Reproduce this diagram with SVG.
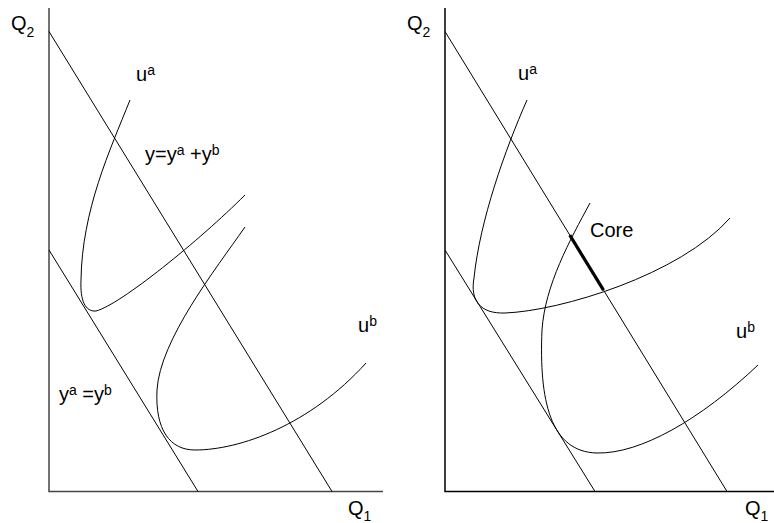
<svg xmlns="http://www.w3.org/2000/svg" width="774" height="523" viewBox="0 0 774 523">
<style>
  .ln { fill: none; stroke: #000; stroke-width: 1; }
  .ax { fill: none; stroke: #444; stroke-width: 1.5; }
  .axr { fill: none; stroke: #000; stroke-width: 1.5; }
  .core { fill: none; stroke: #000; stroke-width: 3.2; }
  text { font-family: "Liberation Sans", Arial, sans-serif; font-size: 20px; fill: #000; }
  .sm { font-size: 14px; }
</style>
<rect width="774" height="523" fill="#fff"/>
<g id="left-panel">
  <g id="left-axes">
    <path class="ax" d="M49,8 V491.5 H383"/>
  </g>
  <g id="left-connectors">
    <path id="left-budget-outer" class="ln" d="M49,31.5 L332,491.5"/>
    <path id="left-budget-inner" class="ln" d="M49,250 L198,491.5"/>
    <path id="left-ua" class="ln" d="M130,100 C110,150 82,210 81,280 C80,300 85,312 96,311 C120,305 200,240 245,195"/>
    <path id="left-ub" class="ln" d="M245,227 C215,270 160,340 157,390 C155,430 170,450 195,450 C240,450 310,425 366,363"/>
  </g>
  <g id="left-labels">
    <text x="11" y="30">Q<tspan class="sm" dy="7">2</tspan></text>
    <text x="136" y="81">u<tspan class="sm" dy="-6">a</tspan></text>
    <text x="145" y="161">y=y<tspan class="sm" dy="-6">a</tspan><tspan dy="6"> +y</tspan><tspan class="sm" dy="-6">b</tspan></text>
    <text x="59" y="401">y<tspan class="sm" dy="-6">a</tspan><tspan dy="6"> =y</tspan><tspan class="sm" dy="-6">b</tspan></text>
    <text x="358" y="332">u<tspan class="sm" dy="-6">b</tspan></text>
    <text x="348" y="515">Q<tspan class="sm" dy="6">1</tspan></text>
  </g>
</g>
<g id="right-panel">
  <g id="right-axes">
    <path class="axr" d="M445,8 V491.5 H774"/>
  </g>
  <g id="right-connectors">
    <path id="right-budget-outer" class="ln" d="M445,31.5 L727,491.5"/>
    <path id="right-budget-inner" class="ln" d="M445,250 L595,491.5"/>
    <path id="right-ua" class="ln" d="M527,100 C505,150 480,220 474,278 C470,300 480,314 505,313 C560,311 680,275 730,218"/>
    <path id="right-ub" class="ln" d="M590,203 C570,240 545,285 542,330 C539,400 550,452 597,453 C640,454 700,420 758,365"/>
    <path id="core" class="core" d="M569.8,235.2 L603.5,290.2"/>
  </g>
  <g id="right-labels">
    <text x="407" y="30">Q<tspan class="sm" dy="7">2</tspan></text>
    <text x="518" y="80">u<tspan class="sm" dy="-6">a</tspan></text>
    <text x="590" y="237">Core</text>
    <text x="736" y="338">u<tspan class="sm" dy="-6">b</tspan></text>
    <text x="745" y="515">Q<tspan class="sm" dy="6">1</tspan></text>
  </g>
</g>
</svg>
